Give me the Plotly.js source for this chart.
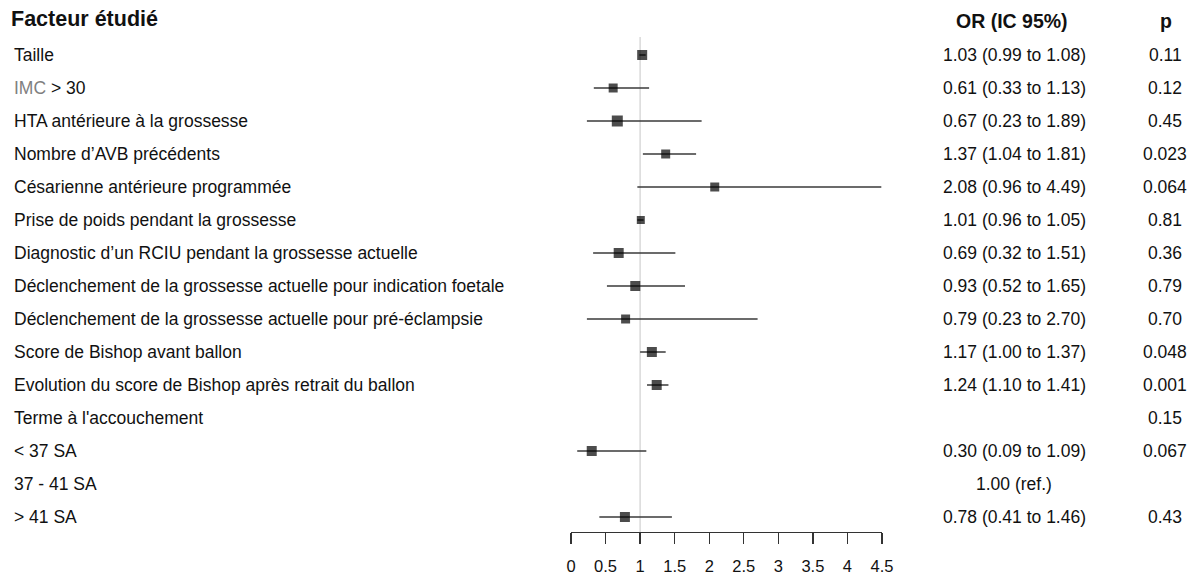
<!DOCTYPE html>
<html>
<head>
<meta charset="utf-8">
<script src="https://cdn.plot.ly/plotly-3.0.1.min.js"></script>
<style>html,body{margin:0;padding:0;background:#fff;}#chart{width:1197px;height:578px;}</style>
</head>
<body>
<div id="chart"></div>
<script>
const labels = [
  "Taille",
  "<span style=\"color:#7f7f7f\">IMC</span> &gt; 30",
  "HTA antérieure à la grossesse",
  "Nombre d’AVB précédents",
  "Césarienne antérieure programmée",
  "Prise de poids pendant la grossesse",
  "Diagnostic d’un RCIU pendant la grossesse actuelle",
  "Déclenchement de la grossesse actuelle pour indication foetale",
  "Déclenchement de la grossesse actuelle pour pré-éclampsie",
  "Score de Bishop avant ballon",
  "Evolution du score de Bishop après retrait du ballon",
  "Terme à l'accouchement",
  "&lt; 37 SA",
  "37 - 41 SA",
  "&gt; 41 SA"
];
const orValues = [1.03, 0.61, 0.67, 1.37, 2.08, 1.01, 0.69, 0.93, 0.79, 1.17, 1.24, null, 0.30, null, 0.78];
const ciLow    = [0.99, 0.33, 0.23, 1.04, 0.96, 0.96, 0.32, 0.52, 0.23, 1.00, 1.10, null, 0.09, null, 0.41];
const ciHigh   = [1.08, 1.13, 1.89, 1.81, 4.49, 1.05, 1.51, 1.65, 2.70, 1.37, 1.41, null, 1.09, null, 1.46];
const orText = ["1.03 (0.99 to 1.08)", "0.61 (0.33 to 1.13)", "0.67 (0.23 to 1.89)", "1.37 (1.04 to 1.81)",
  "2.08 (0.96 to 4.49)", "1.01 (0.96 to 1.05)", "0.69 (0.32 to 1.51)", "0.93 (0.52 to 1.65)",
  "0.79 (0.23 to 2.70)", "1.17 (1.00 to 1.37)", "1.24 (1.10 to 1.41)", "", "0.30 (0.09 to 1.09)",
  "1.00 (ref.)", "0.78 (0.41 to 1.46)"];
const pText = ["0.11", "0.12", "0.45", "0.023", "0.064", "0.81", "0.36", "0.79", "0.70", "0.048", "0.001", "0.15", "0.067", "", "0.43"];
const markerSizes = [10, 9, 11, 9, 9, 8, 10, 10, 9, 10, 10, 0, 10, 0, 10];
const tickVals = [0, 0.5, 1, 1.5, 2, 2.5, 3, 3.5, 4, 4.5];
const tickText = ["0", "0.5", "1", "1.5", "2", "2.5", "3", "3.5", "4", "4.5"];

const rows = labels.map((_, i) => i);
const W = 1197, H = 578;
const rowTop = 55, rowStep = 33;
const pxToRow = p => (p - rowTop) / rowStep;
const axisPx = 532;

const font = "Liberation Sans, Arial, sans-serif";

// CI segments built from the arrays (null gaps between rows)
const ciX = [], ciY = [];
rows.forEach(i => {
  if (orValues[i] == null) return;
  ciX.push(ciLow[i], ciHigh[i], null);
  ciY.push(i, i, null);
});
const ciTrace = {
  type: "scatter", mode: "lines", x: ciX, y: ciY,
  line: {color: "#3a3a3a", width: 1.5},
  hoverinfo: "skip", showlegend: false, connectgaps: false
};
const ptTrace = {
  type: "scatter", mode: "markers", x: orValues, y: rows,
  marker: {symbol: "square", color: "#000", size: markerSizes, line: {width: 0}},
  hoverinfo: "skip", showlegend: false
};

const annotations = [];
const headFont = {family: font, size: 19.5, color: "#111"};
const bodyFont = {family: font, size: 17.5, color: "#111"};
annotations.push({xref: "paper", yref: "y", x: 9 / W, y: pxToRow(19), xanchor: "left", yanchor: "middle",
  text: "<b>Facteur étudié</b>", showarrow: false, font: {family: font, size: 21.5, color: "#111"}});
annotations.push({xref: "paper", yref: "y", x: 1012 / W, y: pxToRow(21), xanchor: "center", yanchor: "middle",
  text: "<b>OR (IC 95%)</b>", showarrow: false, font: headFont});
annotations.push({xref: "paper", yref: "y", x: 1166 / W, y: pxToRow(21), xanchor: "center", yanchor: "middle",
  text: "<b>p</b>", showarrow: false, font: headFont});
labels.forEach((t, i) => {
  annotations.push({xref: "paper", yref: "y", x: 12 / W, y: i, xanchor: "left", yanchor: "middle",
    text: t, showarrow: false, font: bodyFont});
  if (orText[i]) annotations.push({xref: "paper", yref: "y", x: 1014 / W, y: i, xanchor: "center", yanchor: "middle",
    text: orText[i], showarrow: false, font: bodyFont});
  if (pText[i]) annotations.push({xref: "paper", yref: "y", x: 1165 / W, y: i, xanchor: "center", yanchor: "middle",
    text: pText[i], showarrow: false, font: bodyFont});
});

const layout = {
  width: W, height: H,
  margin: {l: 0, r: 0, t: 0, b: 0},
  paper_bgcolor: "#fff", plot_bgcolor: "#fff",
  xaxis: {
    domain: [571 / W, 882 / W],
    range: [0, 4.5],
    anchor: "free", position: 1 - axisPx / H,
    showgrid: false, zeroline: false,
    showline: true, linecolor: "#333", linewidth: 1.3,
    ticks: "outside", ticklen: 11, tickwidth: 1.3, tickcolor: "#333",
    ticklabelstandoff: 8,
    tickvals: tickVals, ticktext: tickText,
    tickfont: {family: font, size: 16.5, color: "#111"}
  },
  yaxis: {
    range: [pxToRow(H), pxToRow(0)],
    visible: false, showgrid: false, zeroline: false
  },
  shapes: [{
    type: "line", xref: "x", yref: "y", x0: 1, x1: 1, y0: pxToRow(37), y1: pxToRow(axisPx),
    line: {color: "#d9d9d9", width: 1.5}, layer: "below"
  }],
  annotations: annotations
};

Plotly.newPlot("chart", [ciTrace, ptTrace], layout, {displayModeBar: false, staticPlot: true});
</script>
</body>
</html>
